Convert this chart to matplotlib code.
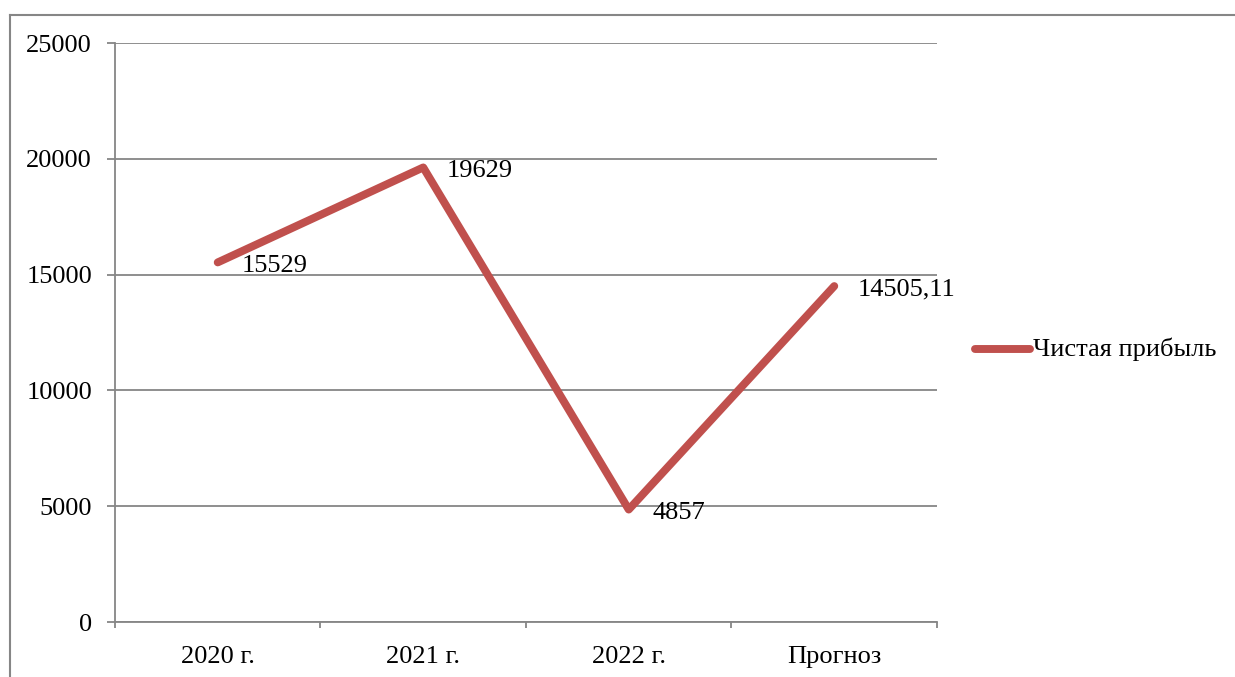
import matplotlib.pyplot as plt
from matplotlib.lines import Line2D
from matplotlib.ticker import FixedLocator

plt.rcParams["font.family"] = ["Liberation Serif", "DejaVu Serif"]

categories = ["2020 г.", "2021 г.", "2022 г.", "Прогноз"]
net_profit = [15529, 19629, 4857, 14505.11]
point_labels = ["15529", "19629", "4857", "14505,11"]
series_name = "Чистая прибыль"

line_color = "#C0504D"
grid_color = "#868686"
fs = 19

fig = plt.figure(figsize=(12.35, 6.77), dpi=100)
ax = fig.add_axes([0.0931, 0.0812, 0.6656, 0.8552])

x = list(range(len(categories)))
ax.plot(x, net_profit, color=line_color, lw=5.7, solid_capstyle="round",
        solid_joinstyle="round", label=series_name, zorder=3)

for xi, yi, lab in zip(x, net_profit, point_labels):
    ax.annotate(lab, (xi, yi), xytext=(17, -2.5), textcoords="offset points",
                ha="left", va="center", fontsize=fs, zorder=4)

ax.set_xlim(-0.5, len(categories) - 0.5)
ax.set_ylim(0, 25000)
ax.set_yticks(range(0, 25001, 5000))
ax.set_xticks(x)
ax.set_xticklabels(categories)
ax.xaxis.set_minor_locator(FixedLocator([i - 0.5 for i in range(len(categories) + 1)]))

ax.grid(axis="y", color=grid_color, lw=1.3)
ax.set_axisbelow(True)
for side in ["top", "right"]:
    ax.spines[side].set_visible(False)
for side in ["left", "bottom"]:
    ax.spines[side].set_color(grid_color)
    ax.spines[side].set_linewidth(1.3)

ax.tick_params(axis="x", which="major", length=0, pad=17.5, labelsize=fs)
ax.tick_params(axis="x", which="minor", length=4, width=1.3, color=grid_color, direction="out")
ax.tick_params(axis="y", length=6, width=1.3, color=grid_color, pad=10.5, labelsize=fs)

# legend to the right of the plot
leg_y = 1 - 349 / 677
fig.add_artist(Line2D([975 / 1235, 1030 / 1235], [leg_y, leg_y], color=line_color,
                      lw=5.7, solid_capstyle="round"))
fig.text(1033 / 1235, leg_y, series_name, ha="left", va="center", fontsize=fs)

# chart area border (cut off at right and bottom)
bx = 9.5 / 1235
by = 1 - 14.5 / 677
fig.add_artist(Line2D([bx, bx], [0, by], color=grid_color, lw=1.5))
fig.add_artist(Line2D([bx, 1], [by, by], color=grid_color, lw=1.5))

fig.savefig("out.png", dpi=100)
